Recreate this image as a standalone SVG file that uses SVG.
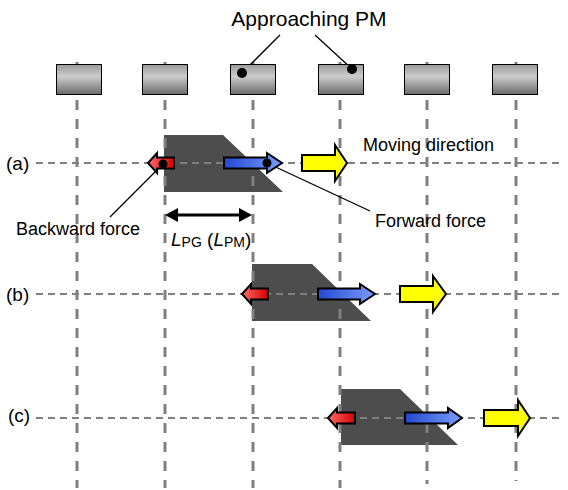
<svg xmlns="http://www.w3.org/2000/svg" width="568" height="490" viewBox="0 0 568 490">
<style>
text{font-family:"Liberation Sans",Arial,sans-serif;fill:#000}
.lbl{font-size:18px}
.row{font-size:19px}
.vl{stroke:#808080;stroke-width:3;stroke-dasharray:10 9;fill:none}
.hl{stroke:#808080;stroke-width:2;stroke-dasharray:7 5;fill:none}
.pm{fill:url(#pmg);stroke:#000;stroke-width:1}
.mover{fill:#4d4d4d}
.red{fill:url(#rg);stroke:#000;stroke-width:2;stroke-linejoin:miter}
.blue{fill:url(#bg);stroke:#000;stroke-width:2;stroke-linejoin:miter}
.yel{fill:#ffff00;stroke:#000;stroke-width:2;stroke-linejoin:miter}
.lead{stroke:#000;stroke-width:1.3;fill:none}
</style>
<defs>
<linearGradient id="pmg" x1="0" y1="0" x2="0" y2="1">
<stop offset="0" stop-color="#9a9a9a"/>
<stop offset="0.4" stop-color="#cccccc"/>
<stop offset="1" stop-color="#6a6a6a"/>
</linearGradient>
<linearGradient id="rg" x1="0" y1="0" x2="1" y2="0">
<stop offset="0" stop-color="#ff6a6a"/>
<stop offset="1" stop-color="#d40000"/>
</linearGradient>
<linearGradient id="bg" x1="0" y1="0" x2="1" y2="0">
<stop offset="0" stop-color="#2448d0"/>
<stop offset="1" stop-color="#7a9cff"/>
</linearGradient>
</defs>

<g id="movers">
<polygon class="mover" points="164,135 223,135 283,192 164,192"/>
<polygon class="mover" points="252,264 312,264 371,321 252,321"/>
<polygon class="mover" points="341,389 400,389 458,445 341,445"/>
</g>

<g id="connectors">
<line class="vl" x1="77" y1="62" x2="77" y2="488"/>
<line class="vl" x1="165" y1="62" x2="165" y2="488"/>
<line class="vl" x1="253" y1="62" x2="253" y2="488"/>
<line class="vl" x1="340" y1="62" x2="340" y2="488"/>
<line class="vl" x1="427" y1="62" x2="427" y2="484"/>
<line class="vl" x1="516" y1="62" x2="516" y2="481"/>
<line class="hl" x1="36" y1="163" x2="563" y2="163"/>
<line class="hl" x1="36" y1="294" x2="563" y2="294"/>
<line class="hl" x1="36" y1="418" x2="563" y2="418"/>
<line class="lead" x1="242" y1="73" x2="280" y2="35"/>
<line class="lead" x1="352" y1="69" x2="315" y2="35"/>
<line class="lead" x1="163" y1="164" x2="110" y2="217"/>
<line class="lead" x1="267" y1="163" x2="370" y2="211"/>
<g id="dimension">
<line x1="174" y1="215" x2="243" y2="215" stroke="#000" stroke-width="3"/>
<polygon points="165,215 178,208 178,222" fill="#000"/>
<polygon points="252,215 239,208 239,222" fill="#000"/>
</g>
</g>

<g id="pm1"><rect class="pm" x="56.5" y="64.5" width="45" height="30"/></g>
<g id="pm2"><rect class="pm" x="142.5" y="64.5" width="45" height="30"/></g>
<g id="pm3"><rect class="pm" x="230.5" y="64.5" width="45" height="30"/><circle cx="242" cy="73" r="5" fill="#000"/></g>
<g id="pm4"><rect class="pm" x="318.5" y="64.5" width="45" height="30"/><circle cx="352" cy="69" r="5" fill="#000"/></g>
<g id="pm5"><rect class="pm" x="404.5" y="64.5" width="45" height="30"/></g>
<g id="pm6"><rect class="pm" x="492.5" y="64.5" width="45" height="30"/></g>

<g id="row-a">
<path class="red" d="M148,163 L157,153 L157,157.5 L174,157.5 L174,168.5 L157,168.5 L157,173 Z"/>
<path class="blue" d="M224,157.5 L267,157.5 L267,153 L282,163 L267,173 L267,168.5 L224,168.5 Z"/>
<path class="yel" d="M302,155 L335,155 L335,145 L347,163 L335,181 L335,171 L302,171 Z"/>
<circle cx="163" cy="164" r="4.5" fill="#000"/>
<circle cx="267" cy="163" r="4.5" fill="#000"/>
</g>
<g id="row-b">
<path class="red" d="M242,294 L251,284 L251,288.5 L268,288.5 L268,299.5 L251,299.5 L251,304 Z"/>
<path class="blue" d="M318,288.5 L360,288.5 L360,284 L375,294 L360,304 L360,299.5 L318,299.5 Z"/>
<path class="yel" d="M400,286 L433,286 L433,276 L446,294 L433,312 L433,302 L400,302 Z"/>
</g>
<g id="row-c">
<path class="red" d="M328,418 L337,408 L337,412.5 L355,412.5 L355,423.5 L337,423.5 L337,428 Z"/>
<path class="blue" d="M405,412.5 L448,412.5 L448,408 L462,418 L448,428 L448,423.5 L405,423.5 Z"/>
<path class="yel" d="M484,410 L518,410 L518,400 L530,418 L518,436 L518,426 L484,426 Z"/>
</g>

<g id="labels">
<text x="309" y="26" font-size="21" text-anchor="middle">Approaching PM</text>
<text class="lbl" x="363" y="151">Moving direction</text>
<text class="lbl" x="16" y="235">Backward force</text>
<text class="lbl" x="375" y="227">Forward force</text>
<text class="row" x="6" y="170">(a)</text>
<text class="row" x="6" y="301">(b)</text>
<text class="row" x="8" y="422">(c)</text>
<text x="171" y="246" font-size="19"><tspan font-style="italic">L</tspan><tspan font-size="14" dy="1">PG</tspan><tspan dy="-1"> (</tspan><tspan font-style="italic">L</tspan><tspan font-size="14" dy="1">PM</tspan><tspan dy="-1">)</tspan></text>
</g>
</svg>
